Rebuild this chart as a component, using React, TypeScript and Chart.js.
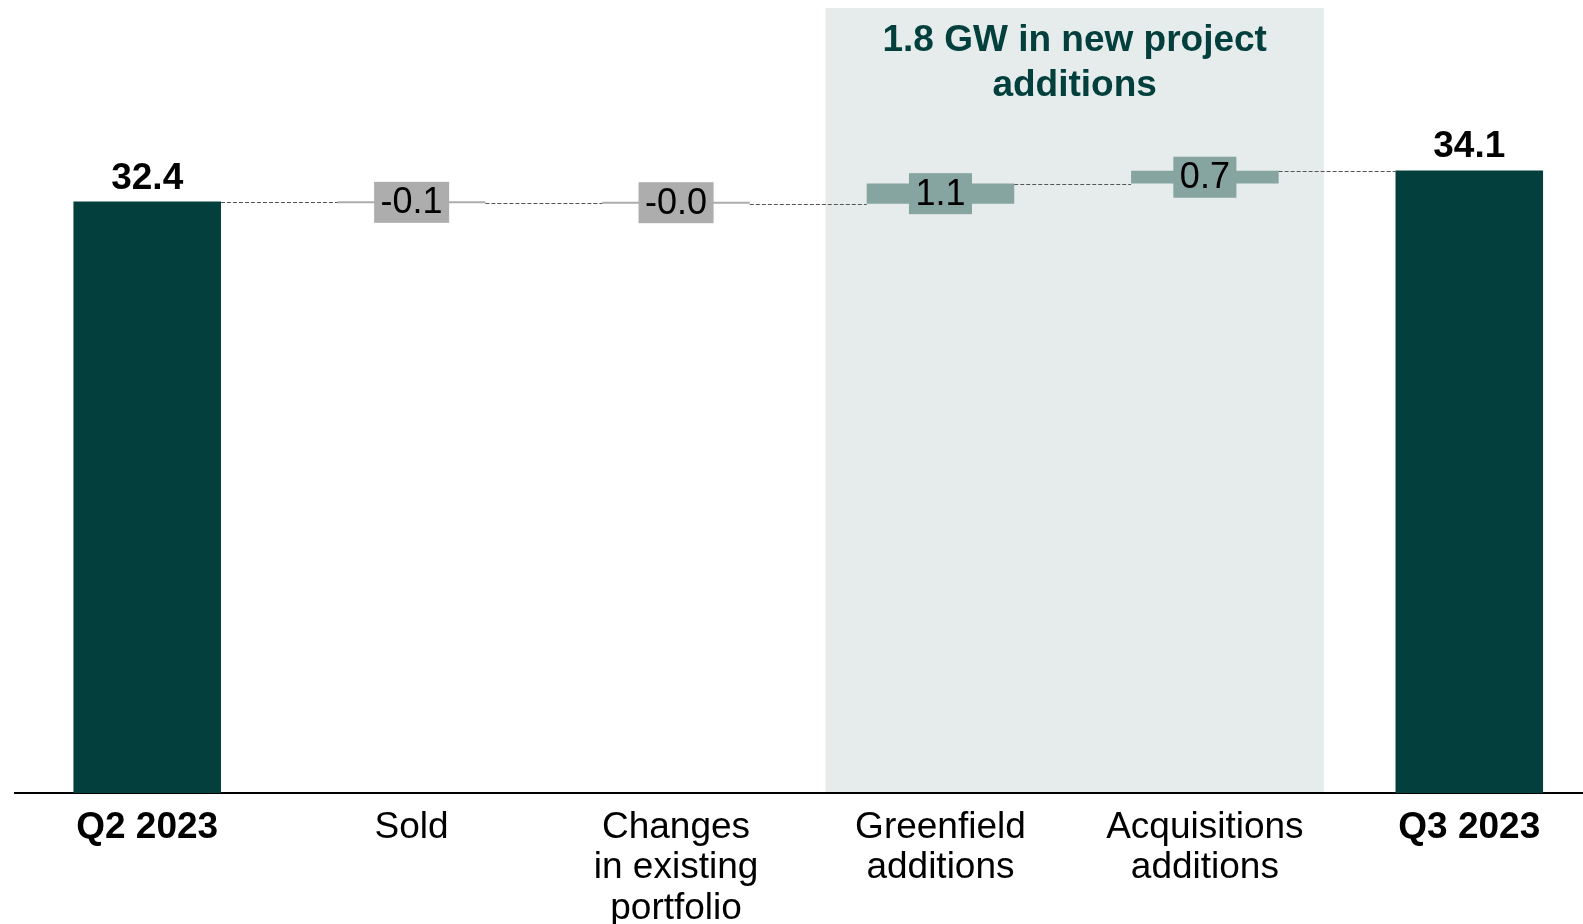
import React, { useEffect, useRef } from "react";
import { Chart, registerables } from "chart.js";

Chart.register(...registerables);

// ---- data ----
const categoryLabels: string[][] = [
  ["Q2 2023"],
  ["Sold"],
  ["Changes", "in existing", "portfolio"],
  ["Greenfield", "additions"],
  ["Acquisitions", "additions"],
  ["Q3 2023"],
];
const startTotal = 32.4;
const endTotal = 34.1;
const deltaValues = [-0.1, -0.02, 1.1, 0.7];
const totalLabels = ["32.4", "34.1"];
const deltaLabels = ["-0.1", "-0.0", "1.1", "0.7"];
const highlightRange = [2.565, 4.45];
const highlightTitle = ["1.8 GW in new project", "additions"];
const yMax = 43;
const xMin = -0.5;
const xMax = 5.43;

// ---- styles ----
const FONT = "'Liberation Sans', Arial, Helvetica, sans-serif";
const DARK = "#03403D";
const POS = "#86A4A0";
const NEG = "#ADADAD";
const SHADE = "#E5ECEB";

export default function App() {
  const ref = useRef<HTMLCanvasElement | null>(null);

  useEffect(() => {
    const canvas = ref.current;
    if (!canvas) return;
    const lastIdx = categoryLabels.length - 1;

    const totalsData = [
      { x: 0, y: startTotal },
      { x: lastIdx, y: endTotal },
    ];
    let running = startTotal;
    const levels: number[] = [startTotal];
    const deltaData = deltaValues.map((d, i) => {
      const s = running;
      running = running + d;
      levels.push(running);
      return { x: i + 1, y: [s, running] };
    });
    const deltaColors = deltaValues.map((d) => (d >= 0 ? POS : NEG));

    const shadePlugin = {
      id: "shade",
      beforeDraw(chart: any) {
        const { ctx, chartArea, scales } = chart;
        const x0 = scales.x.getPixelForValue(highlightRange[0]);
        const x1 = scales.x.getPixelForValue(highlightRange[1]);
        ctx.save();
        ctx.fillStyle = SHADE;
        ctx.fillRect(x0, chartArea.top, x1 - x0, chartArea.bottom - chartArea.top);
        ctx.fillStyle = DARK;
        ctx.font = `bold 37px ${FONT}`;
        ctx.textAlign = "center";
        ctx.textBaseline = "middle";
        const cx = (x0 + x1) / 2;
        highlightTitle.forEach((line, i) => {
          ctx.fillText(line, cx, chartArea.top + 33 + i * 45);
        });
        ctx.restore();
      },
    };

    const annotPlugin = {
      id: "annot",
      afterDatasetsDraw(chart: any) {
        const { ctx, scales } = chart;
        const totMeta = chart.getDatasetMeta(0);
        const delMeta = chart.getDatasetMeta(1);
        const els: any[] = [totMeta.data[0], ...delMeta.data, totMeta.data[1]];
        ctx.save();
        // connectors
        ctx.strokeStyle = "#555555";
        ctx.lineWidth = 1;
        ctx.setLineDash([4, 2]);
        for (let i = 0; i < els.length - 1; i++) {
          const a = els[i];
          const b = els[i + 1];
          const y = Math.round(scales.y.getPixelForValue(levels[i])) + 0.5;
          ctx.beginPath();
          ctx.moveTo(a.x + a.width / 2, y);
          ctx.lineTo(b.x - b.width / 2, y);
          ctx.stroke();
        }
        ctx.setLineDash([]);
        // delta labels
        ctx.font = `36px ${FONT}`;
        ctx.textAlign = "center";
        ctx.textBaseline = "middle";
        delMeta.data.forEach((el: any, i: number) => {
          const txt = deltaLabels[i];
          const tw = ctx.measureText(txt).width;
          const w = tw + 13;
          const h = 41;
          const cy = (el.y + el.base) / 2;
          ctx.fillStyle = deltaColors[i];
          ctx.fillRect(el.x - w / 2, cy - h / 2, w, h);
          ctx.fillStyle = "#000";
          ctx.fillText(txt, el.x, cy + 1);
        });
        // total labels
        ctx.font = `bold 37px ${FONT}`;
        ctx.textBaseline = "alphabetic";
        totMeta.data.forEach((el: any, i: number) => {
          ctx.fillStyle = "#000";
          ctx.fillText(totalLabels[i], el.x, el.y - 13);
        });
        ctx.restore();
      },
    };

    const chart = new Chart(canvas, {
      type: "bar",
      data: {
        datasets: [
          {
            label: "totals",
            data: totalsData as any,
            backgroundColor: DARK,
            borderWidth: 0,
            grouped: false,
            barPercentage: 0.558,
            categoryPercentage: 1,
          } as any,
          {
            label: "deltas",
            data: deltaData as any,
            backgroundColor: deltaColors,
            borderWidth: 0,
            grouped: false,
            barPercentage: 0.558,
            categoryPercentage: 1,
            minBarLength: 2,
          } as any,
        ],
      },
      options: {
        animation: false,
        responsive: false,
        devicePixelRatio: 1,
        layout: { padding: { left: 15, top: 8, right: 0, bottom: 0 } },
        plugins: {
          legend: { display: false },
          tooltip: { enabled: false },
        },
        scales: {
          x: {
            type: "linear",
            offset: false,
            min: xMin,
            max: xMax,
            grid: { display: false, drawTicks: false, offset: false },
            border: { display: true, color: "#000", width: 2 },
            afterFit: (s: any) => {
              s.height = 131;
            },
            ticks: {
              stepSize: 1,
              includeBounds: false,
              autoSkip: false,
              maxRotation: 0,
              minRotation: 0,
              padding: 14,
              color: "#000",
              font: (c: any) => {
                const v = c.tick ? c.tick.value : -1;
                const bold = v === 0 || v === lastIdx;
                return { family: FONT, size: 37, weight: bold ? "bold" : "normal", lineHeight: 1.1 };
              },
              callback: (v: any) => {
                const n = Number(v);
                if (Number.isInteger(n) && n >= 0 && n <= lastIdx) return categoryLabels[n];
                return "";
              },
            },
          } as any,
          y: {
            display: false,
            min: 0,
            max: yMax,
          },
        },
      },
      plugins: [shadePlugin, annotPlugin],
    } as any);

    return () => chart.destroy();
  }, []);

  return (
    <div style={{ position: "absolute", left: 0, top: 0, width: 1583, height: 924, overflow: "hidden", background: "#fff" }}>
      <canvas ref={ref} width={1583} height={924} style={{ display: "block" }} />
    </div>
  );
}
